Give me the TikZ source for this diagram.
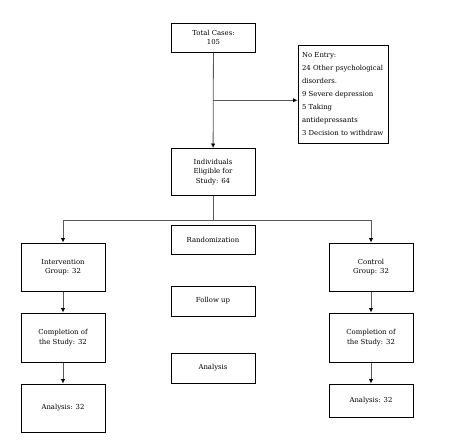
\documentclass[tikz,border=0pt]{standalone}
\usepackage{fontspec}
\setmainfont{DejaVu Serif}
\usetikzlibrary{arrows.meta,calc}

\begin{document}
\begin{tikzpicture}[x=1pt,y=-1pt]

\tikzset{
    box/.style={draw,line width=1pt,inner sep=0pt,align=center,minimum width=84pt,font=\fontsize{6.9}{9.5}\selectfont},
    arr/.style={-{Latex[length=4.5pt,width=4.5pt,color=black]},line width=0.8pt,draw=black!65},
    link/.style={line width=0.8pt,draw=black!65}}

\useasboundingbox (0,0) rectangle (471,440);

\node[box, minimum height=29pt] (total) at (213.5,37.5) {Total Cases:\\105};
\node[box, minimum width=90pt, minimum height=98pt, text width=82pt, inner xsep=4pt, align=left, font=\fontsize{6.9}{13}\selectfont] (noentry) at (343,94) {No Entry:\\24 Other psychological\\disorders.\\9 Severe depression\\5 Taking\\antidepressants\\3 Decision to withdraw};
\node[box, minimum height=47pt] (eligible) at (213,172) {Individuals\\Eligible for\\Study: 64};

\node[box, minimum height=29pt] (random) at (213,239.5) {Randomization};
\node[box, minimum height=30pt] (follow) at (213,301) {Follow up};
\node[box, minimum height=30pt] (analysis) at (213,368) {Analysis};

\node[box, minimum height=48pt] (interv) at (63,267) {Intervention\\Group: 32};
\node[box, minimum height=49pt] (complL) at (63,337.5) {Completion of\\the Study: 32};
\node[box, minimum height=48pt] (analL) at (63,408) {Analysis: 32};

\node[box, minimum height=48pt] (control) at (371,267) {Control\\Group: 32};
\node[box, minimum height=49pt] (complR) at (371,337.5) {Completion of\\the Study: 32};
\node[box, minimum height=33pt] (analR) at (371,400.5) {Analysis: 32};

\coordinate (branch) at ($(total.south)!0.5!(eligible.north)$);
\coordinate (split) at (213,220);

\draw[arr] (total) -- (eligible);
\draw[arr] (branch) -- (branch -| noentry.west);

\draw[link] (eligible) -- (split);
\draw[arr] (split) -| (interv);
\draw[arr] (split) -| (control);

\draw[arr] (interv) -- (complL);
\draw[arr] (complL) -- (analL);
\draw[arr] (control) -- (complR);
\draw[arr] (complR) -- (analR);

\end{tikzpicture}
\end{document}
